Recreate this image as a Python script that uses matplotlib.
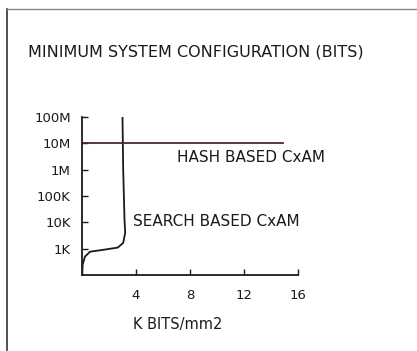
from matplotlib import pyplot as plt
from matplotlib.lines import Line2D
from matplotlib.ticker import FixedLocator, FixedFormatter

# search based CxAM: area density vs. minimum system size
search_x = [0.02, 0.05, 0.22, 0.6, 1.55, 2.65, 3.05, 3.2, 3.15, 3.05, 3.0]
search_y = [100, 250, 500, 770, 900, 1100, 1650, 4000, 1.2e4, 1e6, 1e8]

# hash based CxAM
hash_x = [0, 14.9]
hash_y = [1e7, 1e7]

y_ticks = [1e3, 1e4, 1e5, 1e6, 1e7, 1e8]
y_labels = ["1K", "10K", "100K", "1M", "10M", "100M"]
x_ticks = [4, 8, 12, 16]
x_labels = ["4", "8", "12", "16"]

INK = '#1a1a1a'
W, H = 417, 351

plt.rcParams['font.family'] = ['DejaVu Sans']

fig = plt.figure(figsize=(W / 100, H / 100), dpi=100)
ax = fig.add_axes([82 / W, 1 - 275 / H, 216 / W, 158 / H])

ax.plot(search_x, search_y, color=INK, lw=1.3, solid_capstyle='butt')
ax.plot(hash_x, hash_y, color='#4a2a32', lw=1.3)

ax.set_yscale('log')
ax.set_xlim(0, 16)
ax.set_ylim(100, 1e8)

ax.yaxis.set_major_locator(FixedLocator(y_ticks))
ax.yaxis.set_major_formatter(FixedFormatter(y_labels))
ax.yaxis.set_minor_locator(FixedLocator([]))
ax.xaxis.set_major_locator(FixedLocator(x_ticks))
ax.xaxis.set_major_formatter(FixedFormatter(x_labels))

for s in ['top', 'right']:
    ax.spines[s].set_visible(False)
for s in ['left', 'bottom']:
    ax.spines[s].set_linewidth(1.3)
    ax.spines[s].set_color(INK)

ax.tick_params(direction='in', length=4, width=1, colors=INK)
ax.tick_params(axis='y', pad=8, labelsize=9.5)
ax.tick_params(axis='x', pad=10, labelsize=9.5)

# labels, left edge and vertical centre in pixels
labels = [
    ("MINIMUM SYSTEM CONFIGURATION (BITS)", 28, 52, 11.5),
    ("HASH BASED CxAM", 177, 157, 11),
    ("SEARCH BASED CxAM", 133, 222, 11),
    ("K BITS/mm2", 133, 325, 10.5),
]
for txt, lx, cy, size in labels:
    fig.text(lx / W, 1 - cy / H, txt, fontsize=size, ha='left', va='center', color=INK)

# outer frame (left and top edges)
fig.add_artist(Line2D([7 / W, 7 / W], [1 - 350 / H, 1 - 9 / H], color='#333333', lw=1.2))
fig.add_artist(Line2D([7 / W, 1.0], [1 - 9 / H, 1 - 9 / H], color='#888888', lw=1.0))

fig.savefig("out.png", dpi=100)
